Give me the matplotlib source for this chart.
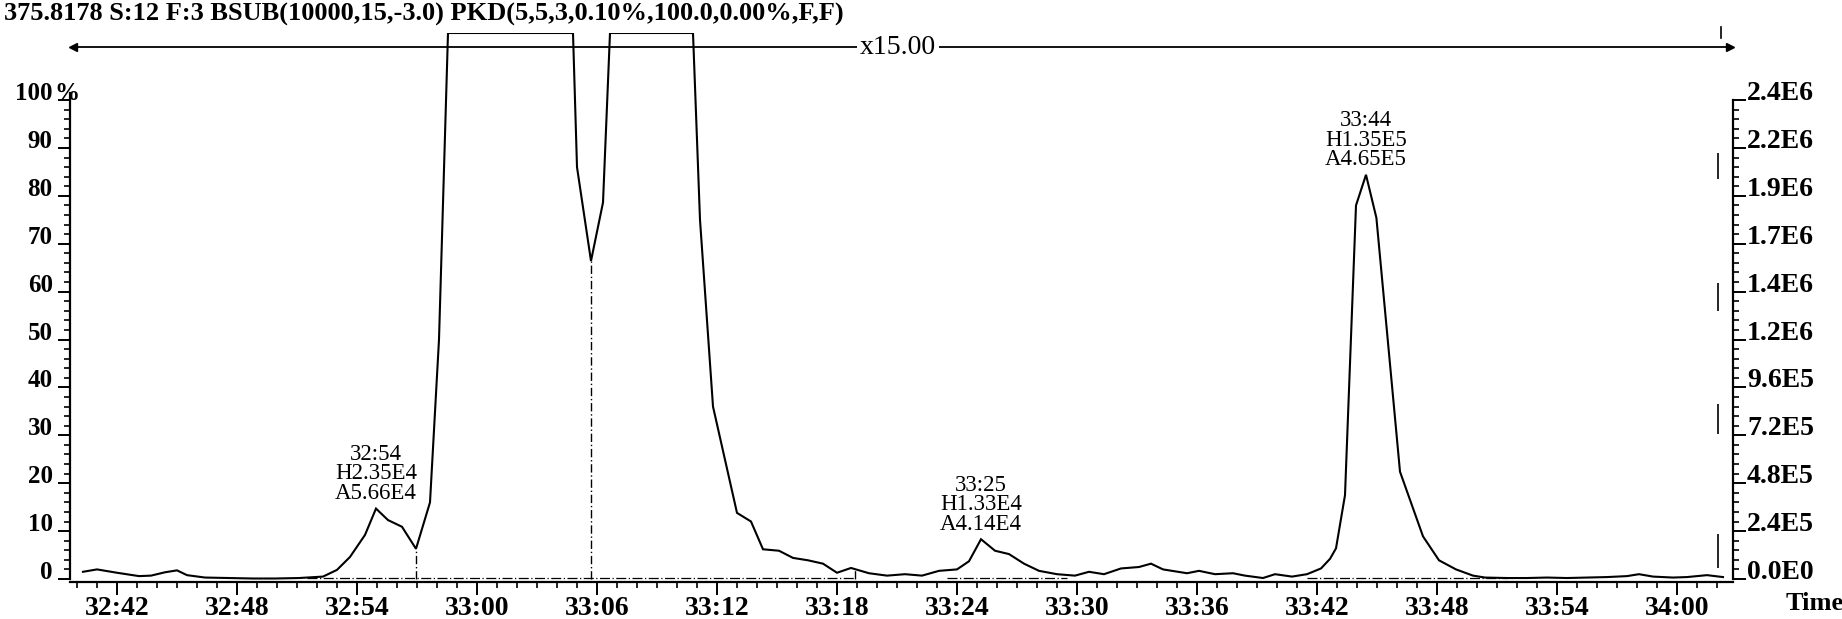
"""
Mass chromatogram, m/z 375.8178, 32:40 - 34:02, with peak labels.
"""

import numpy as np
import matplotlib
matplotlib.use("Agg")
import matplotlib.pyplot as plt

plt.rcParams.update({
    "font.family": "serif",
    "font.serif": ["Liberation Serif", "DejaVu Serif"],
    "font.size": 17,
    "axes.linewidth": 1.6,
})

header = "375.8178 S:12 F:3 BSUB(10000,15,-3.0) PKD(5,5,3,0.10%,100.0,0.00%,F,F)"
scale_label = "x15.00"

# scan time (s) and relative intensity (%); 114 = off scale
scan_time = [
    1960.3, 1961.0, 1962.0, 1963.1, 1963.7, 1964.4, 1965.0, 1965.5, 1966.4,
    1967.6, 1968.8, 1969.9, 1971.1, 1972.3, 1973.0, 1973.65, 1974.4, 1974.95,
    1975.55, 1976.25, 1976.95, 1977.65, 1978.1, 1978.55, 1984.8, 1985.0,
    1985.7, 1986.3, 1986.65, 1990.8, 1991.15, 1991.8, 1993.0, 1993.7, 1994.3,
    1995.1, 1995.8, 1996.55, 1997.3, 1998.0, 1998.7, 1999.6, 2000.5, 2001.4,
    2002.25, 2003.1, 2004.0, 2004.6, 2005.2, 2005.9, 2006.6, 2007.35, 2008.1,
    2009.0, 2009.9, 2010.6, 2011.35, 2012.2, 2013.1, 2013.7, 2014.3, 2015.5,
    2016.1, 2016.9, 2017.8, 2018.4, 2019.3, 2019.9, 2020.75, 2021.5, 2022.2,
    2022.65, 2022.95, 2023.4, 2023.95, 2024.45, 2024.97, 2026.15, 2027.3,
    2028.1, 2028.95, 2029.8, 2030.4, 2031.5, 2032.5, 2033.5, 2034.5, 2035.5,
    2036.5, 2037.5, 2038.1, 2038.8, 2039.8, 2040.5, 2041.5, 2042.3,
]
intensity = [
    1.5, 2.0, 1.3, 0.6, 0.7, 1.4, 1.8, 0.8, 0.3,
    0.2, 0.1, 0.1, 0.2, 0.5, 1.9, 4.6, 9.2, 14.7,
    12.3, 10.9, 6.3, 16.0, 50.0, 114, 114, 86.0,
    66.4, 78.6, 114, 114, 75.0, 36.0, 13.8, 12.0, 6.2,
    5.9, 4.4, 3.9, 3.2, 1.3, 2.3, 1.2, 0.7, 1.0,
    0.7, 1.7, 2.0, 3.7, 8.3, 5.9, 5.2, 3.2, 1.7,
    1.0, 0.7, 1.5, 1.0, 2.2, 2.5, 3.2, 2.0, 1.2,
    1.7, 1.0, 1.2, 0.7, 0.2, 1.0, 0.5, 1.0, 2.2,
    4.2, 6.4, 17.5, 78.0, 84.4, 75.4, 22.4, 8.9,
    3.9, 2.0, 0.7, 0.3, 0.2, 0.2, 0.3, 0.2, 0.3,
    0.4, 0.6, 1.0, 0.5, 0.3, 0.4, 0.8, 0.4,
]

# labelled peaks
peak_time = [1974.95, 2005.2, 2024.45]
peak_rt = ["32:54", "33:25", "33:44"]
peak_height = ["H2.35E4", "H1.33E4", "H1.35E5"]
peak_area = ["A5.66E4", "A4.14E4", "A4.65E5"]

# peak separators (drop lines) and integration baselines
drop_time = [1976.95, 1985.7, 1998.9]
baseline_from = [1971.5, 2003.5, 2021.5]
baseline_to = [1998.9, 2009.5, 2031.5]

# stray marks near the right edge (time, from %, to %)
mark_time = 2042.05
mark_lo = [83.5, 56.0, 30.3, 2.2]
mark_hi = [89.0, 61.8, 36.5, 9.4]

y_ticks = list(range(0, 101, 10))
left_labels = ["0", "10", "20", "30", "40", "50", "60", "70", "80", "90", "100"]
right_labels = ["0.0E0", "2.4E5", "4.8E5", "7.2E5", "9.6E5", "1.2E6",
                "1.4E6", "1.7E6", "1.9E6", "2.2E6", "2.4E6"]
x_ticks = list(range(1962, 2041, 6))
x_labels = [f"{t // 60}:{t % 60:02d}" for t in x_ticks]

W, H = 1842, 619
fig = plt.figure(figsize=(W / 100, H / 100), dpi=100)
ax = fig.add_axes([70 / W, 37 / H, (1733 - 70) / W, (582 - 33) / H])
ax.set_xlim(1959.65, 2042.8)
ax.set_ylim(-0.63, 114)

t = np.array(scan_time)
y = np.array(intensity)
ax.plot(t, y, color="black", lw=1.5, solid_joinstyle="miter")

for t0 in drop_time:
    ax.plot([t0, t0], [0, np.interp(t0, t, y)], color="black", lw=1.0,
            ls=(0, (6, 2, 1, 2)))
for a, b in zip(baseline_from, baseline_to):
    ax.plot([a, b], [0.25, 0.25], color="black", lw=0.9, ls=(0, (8, 2, 1, 2)))
ax.vlines([mark_time] * len(mark_lo), mark_lo, mark_hi, color="black", lw=1.2)

# peak labels: three stacked lines above each apex
for pt, rt, h, a in zip(peak_time, peak_rt, peak_height, peak_area):
    apex = (pt, np.interp(pt, t, y))
    for k, line in enumerate([a, h, rt]):
        ax.annotate(line, apex, xytext=(0, 7 + 14 * k),
                    textcoords="offset points", ha="center", va="baseline",
                    fontsize=16.5)

# x15 scale bar
ys = 111
ax.plot([1959.8, 2042.65], [ys, ys], color="black", lw=1.3, clip_on=False)
ax.plot([1959.8], [ys], marker="<", ms=6, color="black", clip_on=False)
ax.plot([2042.65], [ys], marker=">", ms=6, color="black", clip_on=False)
ax.text(2001.05, ys, scale_label, ha="center", va="center", fontsize=20,
        bbox=dict(facecolor="white", edgecolor="none", pad=2))
ax.plot([2042.2, 2042.2], [113.0, 115.3], color="black", lw=1.2, clip_on=False)

# axes
for side in ["top", "right"]:
    ax.spines[side].set_visible(False)
ax.spines["left"].set_bounds(0, 101.5)
ax.set_yticks(y_ticks)
ax.set_yticklabels(left_labels, fontweight="bold", fontsize=18)
ax.set_yticks(np.arange(0, 101, 2), minor=True)
ax.tick_params(axis="y", which="major", length=9, width=1.4, pad=3.5)
ax.tick_params(axis="y", which="minor", length=4, width=1.2)
for tk in ax.yaxis.get_major_ticks():
    tk.label1.set_verticalalignment("baseline")
ax.text(-0.002, 100, "%", transform=ax.get_yaxis_transform(), ha="center",
        va="baseline", fontweight="bold", fontsize=18)

ax.set_xticks(x_ticks)
ax.set_xticklabels(x_labels, fontweight="bold", fontsize=20)
ax.set_xticks(np.arange(1960, 2043, 1), minor=True)
ax.tick_params(axis="x", which="major", length=9, width=1.4, pad=1)
ax.tick_params(axis="x", which="minor", length=4.5, width=1.2)

ax2 = ax.twinx()
ax2.set_ylim(ax.get_ylim())
for side in ["top", "left", "bottom"]:
    ax2.spines[side].set_visible(False)
ax2.spines["right"].set_bounds(0, 100)
ax2.set_yticks(y_ticks)
ax2.set_yticklabels(right_labels, fontweight="bold", fontsize=20)
ax2.set_yticks(np.arange(0, 101, 2), minor=True)
ax2.tick_params(axis="y", which="major", length=9, width=1.4, pad=1)
ax2.tick_params(axis="y", which="minor", length=4, width=1.2)
for tk in ax2.yaxis.get_major_ticks():
    tk.label2.set_verticalalignment("baseline")

fig.text(4 / W, 1 - 14 / H, header, ha="left", va="center", fontweight="bold",
         fontsize=19)
fig.text(1815 / W, 1 - 603 / H, "Time", ha="center", va="center",
         fontweight="bold", fontsize=19)

fig.savefig("out.png", dpi=100)
